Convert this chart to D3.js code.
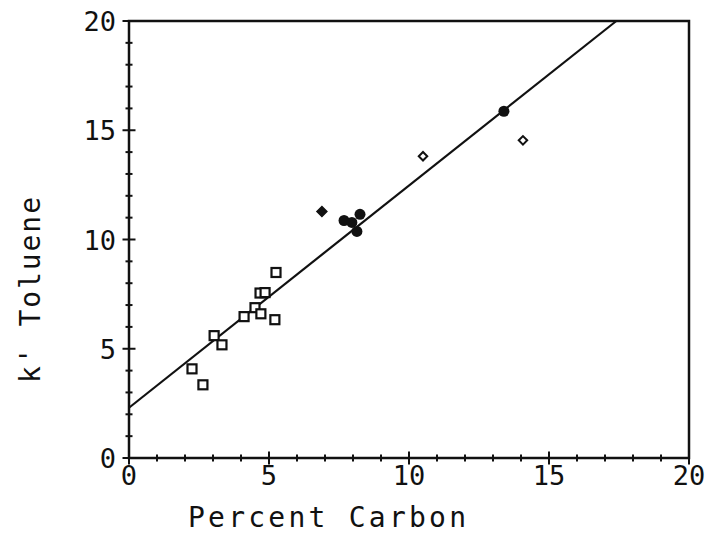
<!DOCTYPE html>
<html><head><meta charset="utf-8">
<script src="https://cdn.jsdelivr.net/npm/d3@7"></script>
<style>body{margin:0;background:#fff}svg{display:block}text{font-family:"DejaVu Sans Mono",monospace;fill:#111}</style>
</head><body><svg id="c" width="711" height="539"></svg>
<script>
const squaresX = [5.25, 4.68, 4.86, 4.50, 4.71, 5.21, 4.11, 3.04, 3.32, 2.25, 2.64];
const squaresY = [8.49, 7.55, 7.57, 6.88, 6.60, 6.33, 6.47, 5.60, 5.18, 4.08, 3.35];
const circlesX = [7.68, 7.96, 8.25, 8.14, 13.39];
const circlesY = [10.87, 10.78, 11.15, 10.37, 15.87];
const filledDiamondX = [6.89];
const filledDiamondY = [11.28];
const openDiamondX = [10.50, 14.07];
const openDiamondY = [13.81, 14.54];
const fitIntercept = 2.3;
const fitSlope = 1.017;
const majorTicks = [0, 5, 10, 15, 20];
const minorTicks = [1,2,3,4,6,7,8,9,11,12,13,14,16,17,18,19];
const xTitle = "Percent Carbon";
const yTitle = "k' Toluene";

const svg = d3.select("#c");
const x = d3.scaleLinear().domain([0, 20]).range([129, 689]);
const y = d3.scaleLinear().domain([0, 20]).range([458, 21]);
const ink = "#111";

// frame
svg.append("rect").attr("x", x(0)).attr("y", y(20)).attr("width", x(20) - x(0)).attr("height", y(0) - y(20))
  .attr("fill", "none").attr("stroke", ink).attr("stroke-width", 2.5);

// ticks
const g = svg.append("g").attr("stroke", ink).attr("stroke-width", 2);
minorTicks.forEach(v => {
  g.append("line").attr("x1", x(v)).attr("x2", x(v)).attr("y1", y(0) - 3.5).attr("y2", y(0) + 3.5);
  g.append("line").attr("y1", y(v)).attr("y2", y(v)).attr("x1", x(0) - 3.5).attr("x2", x(0) + 3.5);
});
majorTicks.forEach(v => {
  g.append("line").attr("x1", x(v)).attr("x2", x(v)).attr("y1", y(0) - 6.5).attr("y2", y(0) + 6.5);
  g.append("line").attr("y1", y(v)).attr("y2", y(v)).attr("x1", x(0) - 6.5).attr("x2", x(0) + 6.5);
});

// tick labels
majorTicks.forEach(v => {
  svg.append("text").attr("x", x(v)).attr("y", y(0) + 27).attr("text-anchor", "middle")
    .attr("font-size", 27).text(v);
  svg.append("text").attr("x", x(0) - 13).attr("y", y(v) + 10).attr("text-anchor", "end")
    .attr("font-size", 27).text(v);
});

// titles
svg.append("text").attr("x", 327).attr("y", 527).attr("text-anchor", "middle")
  .attr("font-size", 28).attr("textLength", 278).attr("lengthAdjust", "spacing").text(xTitle);
svg.append("text").attr("transform", "translate(40,290) rotate(-90)").attr("text-anchor", "middle")
  .attr("font-size", 28).attr("textLength", 186).attr("lengthAdjust", "spacing").text(yTitle);

// fit line
const xEnd = (20 - fitIntercept) / fitSlope;
svg.append("line").attr("x1", x(0)).attr("y1", y(fitIntercept)).attr("x2", x(xEnd)).attr("y2", y(20))
  .attr("stroke", ink).attr("stroke-width", 2.2);

// squares
squaresX.forEach((v, i) => {
  svg.append("rect").attr("x", x(v) - 4.5).attr("y", y(squaresY[i]) - 4.5).attr("width", 9).attr("height", 9)
    .attr("fill", "#fff").attr("stroke", ink).attr("stroke-width", 2.2);
});
// filled circles
circlesX.forEach((v, i) => {
  svg.append("circle").attr("cx", x(v)).attr("cy", y(circlesY[i])).attr("r", 5.5).attr("fill", ink);
});
// filled diamond (rotated square)
filledDiamondX.forEach((v, i) => {
  svg.append("rect").attr("x", -3.5).attr("y", -3.5).attr("width", 7).attr("height", 7)
    .attr("transform", `translate(${x(v)},${y(filledDiamondY[i])}) rotate(45)`)
    .attr("fill", ink).attr("stroke", ink).attr("stroke-width", 1.5);
});
// open diamonds (rotated squares)
openDiamondX.forEach((v, i) => {
  svg.append("rect").attr("x", -3).attr("y", -3).attr("width", 6).attr("height", 6)
    .attr("transform", `translate(${x(v)},${y(openDiamondY[i])}) rotate(45)`)
    .attr("fill", "#fff").attr("stroke", ink).attr("stroke-width", 2);
});
</script></body></html>
